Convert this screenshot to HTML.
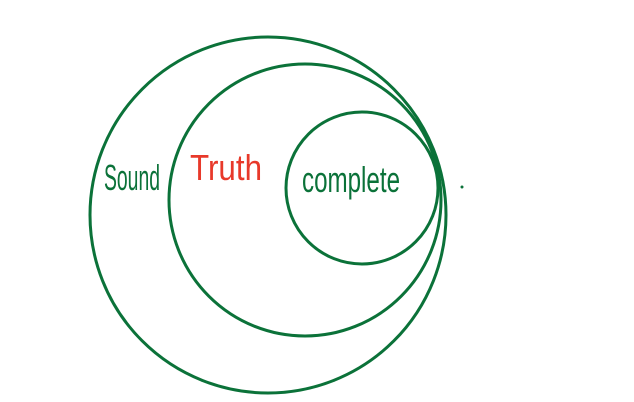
<!DOCTYPE html>
<html><head><meta charset="utf-8"><style>
html,body{margin:0;padding:0;background:#fff;width:634px;height:402px;overflow:hidden}
</style></head><body>
<svg width="634" height="402" xmlns="http://www.w3.org/2000/svg">
<g fill="none" stroke="#0b7239" stroke-width="3">
<circle cx="268" cy="215" r="178"/>
<circle cx="305" cy="200" r="136"/>
<circle cx="362" cy="188" r="76"/>
</g>
<circle cx="462" cy="187" r="1.5" fill="#0b7239"/>
<text x="104" y="190" font-family="Liberation Sans Narrow, Liberation Sans, sans-serif" font-size="36" fill="#0b7239" textLength="56" lengthAdjust="spacingAndGlyphs">Sound</text>
<text x="190" y="180" font-family="Liberation Sans Narrow, Liberation Sans, sans-serif" font-size="36" fill="#e8392a" textLength="72" lengthAdjust="spacingAndGlyphs">Truth</text>
<text x="302" y="192" font-family="Liberation Sans Narrow, Liberation Sans, sans-serif" font-size="36" fill="#0b7239" textLength="98" lengthAdjust="spacingAndGlyphs">complete</text>
</svg>
</body></html>
